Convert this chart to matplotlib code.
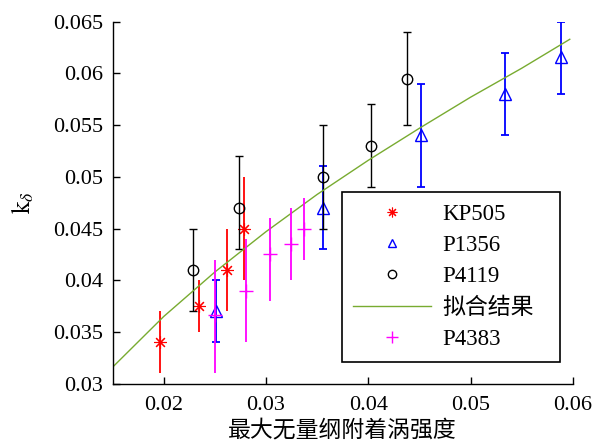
import matplotlib.pyplot as plt
from matplotlib.lines import Line2D
import numpy as np

plt.rcParams['font.family'] = ['Liberation Serif', 'Noto Sans CJK SC']
plt.rcParams['mathtext.fontset'] = 'stix'

# KP505
kp_x = [0.0196, 0.0234, 0.0262, 0.0278]
kp_y = [0.0340, 0.0375, 0.0410, 0.0450]
kp_lo = [0.0310, 0.0350, 0.0370, 0.0400]
kp_hi = [0.0370, 0.0400, 0.0450, 0.0500]

# P1356
p1_x = [0.0251, 0.0356, 0.0452, 0.0534, 0.0588]
p1_y = [0.0370, 0.0470, 0.0540, 0.0580, 0.0616]
p1_lo = [0.0340, 0.0430, 0.0490, 0.0540, 0.0580]
p1_hi = [0.0400, 0.0510, 0.0590, 0.0620, 0.0650]

# P4119
p4_x = [0.0229, 0.0274, 0.0356, 0.0403, 0.0438]
p4_y = [0.0410, 0.0470, 0.0500, 0.0530, 0.0595]
p4_lo = [0.0370, 0.0430, 0.0450, 0.0490, 0.0550]
p4_hi = [0.0450, 0.0520, 0.0550, 0.0570, 0.0640]

# P4383
p3_x = [0.0250, 0.0280, 0.0304, 0.0324, 0.0337]
p3_y = [0.0366, 0.0390, 0.0425, 0.0435, 0.0450]
p3_lo = [0.0310, 0.0340, 0.0380, 0.0400, 0.0420]
p3_hi = [0.0420, 0.0440, 0.0460, 0.0470, 0.0480]

# fitted curve
fit_x = [0.015, 0.020, 0.025, 0.030, 0.035, 0.040, 0.045, 0.050, 0.055, 0.0597]
fit_y = [0.0316, 0.0365, 0.0408, 0.0447, 0.0483, 0.0516, 0.0547, 0.0577, 0.0605, 0.0633]

green = (0.47, 0.67, 0.19)


def err(y, lo, hi):
    y = np.array(y)
    return [y - np.array(lo), np.array(hi) - y]


fig = plt.figure(figsize=(5.93, 4.43), dpi=100)
ax = fig.add_axes([0.190, 0.134, 0.776, 0.817])

star = (8, 2, 0)
ax.errorbar(kp_x, kp_y, yerr=err(kp_y, kp_lo, kp_hi), fmt='none', ecolor='r', elinewidth=1.3, capsize=0)
ax.plot(kp_x, kp_y, ls='none', marker=star, color='r', ms=9, mew=0.8)

ax.errorbar(p1_x, p1_y, yerr=err(p1_y, p1_lo, p1_hi), fmt='none', ecolor='b', elinewidth=1.3, capsize=3, capthick=1.3)
ax.plot(p1_x, p1_y, ls='none', marker='^', mfc='none', mec='b', ms=8, mew=1.0)

ax.errorbar(p4_x, p4_y, yerr=err(p4_y, p4_lo, p4_hi), fmt='none', ecolor='k', elinewidth=1.0, capsize=3, capthick=1.0)
ax.plot(p4_x, p4_y, ls='none', marker='o', mfc='none', mec='k', ms=7.5, mew=1.0)

ax.plot(fit_x, fit_y, color=green, lw=1.0)

ax.errorbar(p3_x, p3_y, yerr=err(p3_y, p3_lo, p3_hi), fmt='none', ecolor='#ff00ff', elinewidth=1.3, capsize=0)
ax.plot(p3_x, p3_y, ls='none', marker='+', color='#ff00ff', ms=10, mew=1.0)

ax.set_xlim(0.015, 0.06)
ax.set_ylim(0.03, 0.065)
ax.set_xticks([0.02, 0.03, 0.04, 0.05, 0.06])
ax.set_xticklabels(['0.02', '0.03', '0.04', '0.05', '0.06'])
ax.set_yticks(np.arange(0.03, 0.0651, 0.005))
ax.set_yticklabels(['0.03', '0.035', '0.04', '0.045', '0.05', '0.055', '0.06', '0.065'])
ax.tick_params(direction='in', labelsize=16, length=5, width=1.0)
ax.tick_params(axis='x', pad=9)
ax.tick_params(axis='y', pad=7)
ax.spines['top'].set_visible(False)
ax.spines['right'].set_visible(False)
for s in ('left', 'bottom'):
    ax.spines[s].set_linewidth(1.0)

ax.set_xlabel('最大无量纲附着涡强度', fontsize=16.5, labelpad=3)
ax.set_ylabel(r'$\mathrm{k}_{\delta}$', fontsize=18, labelpad=12)

handles = [
    Line2D([], [], ls='none', marker=star, color='r', ms=7, mew=0.8),
    Line2D([], [], ls='none', marker='^', mfc='none', mec='b', ms=6, mew=1.0),
    Line2D([], [], ls='none', marker='o', mfc='none', mec='k', ms=6, mew=1.0),
    Line2D([], [], color=green, lw=1.0),
    Line2D([], [], ls='none', marker='+', color='#ff00ff', ms=8, mew=1.0),
]
labels = ['KP505', 'P1356', 'P4119', '拟合结果', 'P4383']
leg = ax.legend(handles, labels, loc='lower left', bbox_to_anchor=(0.4975, 0.06, 0.4745, 0.468),
                mode='expand', fontsize=16.5, handlelength=3.4, handletextpad=0.5,
                labelspacing=0.45, borderaxespad=0, fancybox=False, framealpha=1,
                edgecolor='k', borderpad=0.5)
leg.get_frame().set_linewidth(1.2)

fig.savefig('out.png', dpi=100)
